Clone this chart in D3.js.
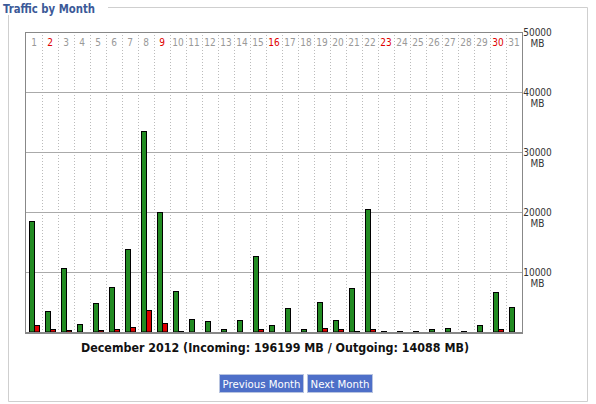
<!DOCTYPE html>
<html><head><meta charset="utf-8">
<script src="https://cdn.jsdelivr.net/npm/d3@7"></script>
<style>
body{margin:0;background:#fff;}
svg{display:block;}
</style></head>
<body>
<svg id="c" width="596" height="404"></svg>
<script>
const days = d3.range(1, 32);
const sundays = [2, 9, 16, 23, 30];
const incoming = [18500,3500,10700,1300,4800,7500,13800,33500,20000,6800,2200,1850,500,2000,12700,1200,4000,500,5000,2000,7300,20500,200,200,200,500,700,200,1200,6700,4200];
const outgoing = [1200,500,330,80,350,500,800,3700,1500,200,50,50,30,50,500,50,30,50,700,500,250,500,50,30,50,50,30,50,30,500,50];
const yTicks = [10000, 20000, 30000, 40000, 50000];
const title = "Traffic by Month";
const caption = "December 2012 (Incoming: 196199 MB / Outgoing: 14088 MB)";
const buttons = ["Previous Month", "Next Month"];

const svg = d3.select("#c");
const font = "Tahoma, 'DejaVu Sans', Verdana, sans-serif";
const small = "'DejaVu Sans Condensed', 'Liberation Sans Narrow', 'DejaVu Sans', sans-serif";
const L = 26, R = 522, T = 32, B = 332;

// frame
svg.append("path").attr("d", "M108,7.5H587.5V401.5H8.5V15")
  .attr("fill","none").attr("stroke","#cfcfcf").attr("stroke-width",1);
svg.append("text").attr("x",3).attr("y",13).attr("font-family",small).attr("font-size",13)
  .attr("font-weight","bold").attr("fill","#3b5998")
  .attr("textLength", 92).attr("lengthAdjust","spacingAndGlyphs").text(title);

const x = d3.scaleBand().domain(days).range([L, R]).padding(0);
const y = d3.scaleLinear().domain([0, 50000]).range([B, T]);

// dotted column separators
svg.append("g").selectAll("line").data(days.slice(1)).join("line")
  .attr("x1", d => x(d) + 0.5).attr("x2", d => x(d) + 0.5)
  .attr("y1", T).attr("y2", B)
  .attr("stroke","#bbb").attr("stroke-dasharray","1,2");

// horizontal grid
svg.append("g").selectAll("line").data(yTicks.slice(0,-1)).join("line")
  .attr("x1", L).attr("x2", R)
  .attr("y1", d => Math.round(y(d)) + 0.5).attr("y2", d => Math.round(y(d)) + 0.5)
  .attr("stroke","#aaa");

// day labels
svg.append("g").selectAll("text").data(days).join("text")
  .attr("x", d => x(d) + x.bandwidth()/2).attr("y", 46)
  .attr("text-anchor","middle").attr("font-family",small).attr("font-size",10)
  .attr("fill", d => sundays.includes(d) ? "#e00000" : "#999").text(d => d);

// bars
const bw = 5;
svg.append("g").selectAll("rect").data(days).join("rect")
  .attr("x", d => x(d) + 3.5).attr("width", bw)
  .attr("y", (d,i) => Math.round(y(incoming[i])) + 0.5)
  .attr("height", (d,i) => Math.max(0, B - Math.round(y(incoming[i])) - 0.5))
  .attr("fill","#228b22").attr("stroke","#000");
svg.append("g").selectAll("rect").data(days).join("rect")
  .attr("x", d => x(d) + 8.5).attr("width", bw)
  .attr("y", (d,i) => Math.round(y(outgoing[i])) + 0.5)
  .attr("height", (d,i) => Math.max(0, B - Math.round(y(outgoing[i])) - 0.5))
  .attr("fill","#dd0000").attr("stroke","#000");

// plot border
svg.append("rect").attr("x", L - 0.5).attr("y", T + 0.5).attr("width", R - L + 1).attr("height", B - T)
  .attr("fill","none").attr("stroke","#888");
svg.append("line").attr("x1", L - 1).attr("x2", R + 1).attr("y1", B + 1).attr("y2", B + 1)
  .attr("stroke","#888").attr("stroke-width",2);

// y labels
const yl = svg.append("g").selectAll("g").data(yTicks).join("g")
  .attr("transform", d => `translate(537.5,${y(d)})`);
yl.append("text").attr("y", 4).attr("text-anchor","middle").attr("font-family",small)
  .attr("font-size",10).attr("fill","#333").text(d => d);
yl.append("text").attr("y", 15).attr("text-anchor","middle").attr("font-family",small)
  .attr("font-size",10).attr("fill","#333").text("MB");

// caption
svg.append("text").attr("x", 275).attr("y", 352).attr("text-anchor","middle")
  .attr("font-family",font).attr("font-size",12).attr("font-weight","bold").attr("fill","#111")
  .attr("textLength", 388).attr("lengthAdjust","spacingAndGlyphs").text(caption);

// buttons
const btn = [{x:219,w:84},{x:307,w:65}];
buttons.forEach((t,i) => {
  svg.append("rect").attr("x", btn[i].x + 0.5).attr("y", 374.5).attr("width", btn[i].w).attr("height", 18)
    .attr("fill","#4e6fc8").attr("stroke","#b8c4e0");
  svg.append("text").attr("x", btn[i].x + btn[i].w/2 + 0.5).attr("y", 388).attr("text-anchor","middle")
    .attr("font-family",font).attr("font-size",11).attr("fill","#fff")
    .attr("textLength", btn[i].w - 6).attr("lengthAdjust","spacingAndGlyphs").text(t);
});
</script>
</body></html>
